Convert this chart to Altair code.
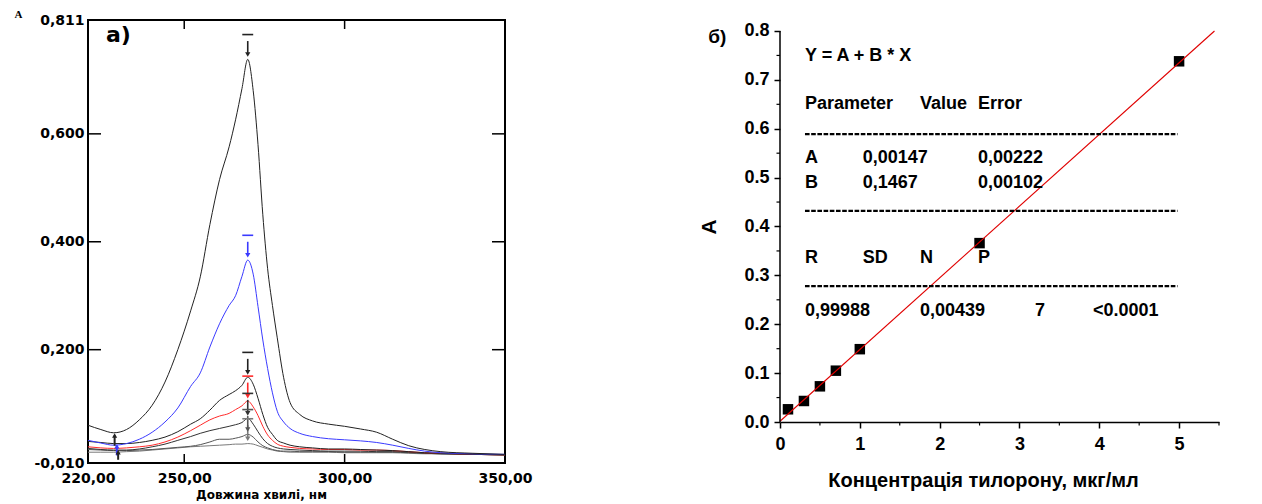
import altair as alt
import pandas as pd

# ---------------- data: panel a) UV spectra ----------------
WL = [220, 224, 228, 232, 236, 240, 244, 248, 252, 255, 258, 261, 264, 266, 268,
      269.8, 271.5, 273, 274.5, 276, 277.5, 279, 281, 283, 286, 290, 295, 300,
      305, 310, 315, 320, 325, 330, 340, 350]

A_50 = [0.060, 0.052, 0.046, 0.052, 0.070, 0.097, 0.140, 0.200, 0.272, 0.335, 0.432,
        0.515, 0.576, 0.626, 0.684, 0.738, 0.680, 0.580, 0.450, 0.350, 0.282, 0.222,
        0.148, 0.102, 0.080, 0.068, 0.062, 0.058, 0.053, 0.047, 0.034, 0.022, 0.015,
        0.011, 0.008, 0.006]
A_25 = [0.032, 0.027, 0.023, 0.026, 0.034, 0.047, 0.066, 0.092, 0.132, 0.157, 0.205,
        0.248, 0.282, 0.300, 0.336, 0.366, 0.340, 0.280, 0.218, 0.165, 0.120, 0.086,
        0.066, 0.054, 0.045, 0.039, 0.035, 0.033, 0.031, 0.028, 0.023, 0.017, 0.012,
        0.009, 0.007, 0.006]
A_10 = [0.030, 0.028, 0.026, 0.026, 0.028, 0.032, 0.038, 0.048, 0.062, 0.072, 0.088,
        0.106, 0.117, 0.124, 0.134, 0.149, 0.136, 0.110, 0.080, 0.056, 0.043, 0.032,
        0.027, 0.023, 0.020, 0.018, 0.016, 0.016, 0.015, 0.014, 0.013, 0.011, 0.009,
        0.008, 0.006, 0.005]
A_07 = [0.020, 0.018, 0.017, 0.018, 0.020, 0.023, 0.029, 0.038, 0.050, 0.060, 0.070,
        0.077, 0.082, 0.089, 0.096, 0.105, 0.094, 0.078, 0.058, 0.042, 0.032, 0.025,
        0.021, 0.019, 0.017, 0.016, 0.015, 0.015, 0.014, 0.014, 0.013, 0.011, 0.009,
        0.008, 0.006, 0.005]
A_05 = [0.017, 0.015, 0.014, 0.014, 0.016, 0.020, 0.025, 0.032, 0.039, 0.045, 0.050,
        0.054, 0.058, 0.061, 0.065, 0.073, 0.062, 0.048, 0.035, 0.026, 0.021, 0.018,
        0.016, 0.015, 0.014, 0.013, 0.012, 0.012, 0.012, 0.011, 0.011, 0.010, 0.008,
        0.007, 0.006, 0.005]
A_03 = [0.015, 0.014, 0.013, 0.013, 0.014, 0.015, 0.017, 0.019, 0.021, 0.024, 0.029,
        0.034, 0.034, 0.036, 0.039, 0.043, 0.038, 0.029, 0.022, 0.018, 0.015, 0.013,
        0.012, 0.012, 0.011, 0.011, 0.011, 0.010, 0.010, 0.010, 0.010, 0.009, 0.008,
        0.007, 0.006, 0.005]
A_01 = [0.010, 0.010, 0.010, 0.011, 0.012, 0.014, 0.016, 0.018, 0.020, 0.021, 0.022,
        0.023, 0.024, 0.025, 0.025, 0.026, 0.025, 0.022, 0.019, 0.016, 0.014, 0.012,
        0.011, 0.010, 0.010, 0.010, 0.010, 0.009, 0.009, 0.009, 0.009, 0.008, 0.007,
        0.007, 0.006, 0.005]

SERIES = ["0.1", "0.3", "0.5", "0.7", "1.0", "2.5", "5.0"]
SPECTRA = [A_01, A_03, A_05, A_07, A_10, A_25, A_50]
SERIES_COLORS = ["#7a7a7a", "#555555", "#333333", "#ff2a2a", "#222222", "#3a3aff", "#222222"]
PEAK_WL = 269.8

# minimum markers near 228 nm (series, wavelength, from, to)
MIN_SERIES = ["5.0", "2.5", "1.0"]
MIN_WL = [228.3, 229.0, 229.4]
MIN_FROM = [0.022, 0.004, -0.004]
MIN_TO = [0.041, 0.021, 0.010]

# ---------------- data: panel б) calibration ----------------
CONC = [0.1, 0.3, 0.5, 0.7, 1.0, 2.5, 5.0]
ABS = [0.026, 0.043, 0.073, 0.105, 0.149, 0.366, 0.738]
FIT_A = 0.00147
FIT_B = 0.1467

ANN_TEXT = ["Y = A + B * X",
            "Parameter", "Value", "Error",
            "A", "0,00147", "0,00222",
            "B", "0,1467", "0,00102",
            "R", "SD", "N", "P",
            "0,99988", "0,00439", "7", "<0.0001"]
ANN_X = [0.313,
         0.313, 1.754, 2.481,
         0.313, 1.036, 2.481,
         0.313, 1.036, 2.481,
         0.313, 1.036, 1.754, 2.481,
         0.313, 1.754, 3.195, 3.922]
ANN_Y = [0.748,
         0.650, 0.650, 0.650,
         0.540, 0.540, 0.540,
         0.488, 0.488, 0.488,
         0.335, 0.335, 0.335, 0.335,
         0.228, 0.228, 0.228, 0.228]
DASH_Y = [0.589, 0.432, 0.278]
DASH_X0, DASH_X1 = 0.313, 4.98

# ---------------- panel a) ----------------
LW, LH = 417, 443
BOLD_L = "DejaVu Sans"

rows = []
for s, vals in zip(SERIES, SPECTRA):
    for w, a in zip(WL, vals):
        rows.append({"series": s, "wl": w, "a": a})
spec_df = pd.DataFrame(rows)

color = alt.Color("series:N", scale=alt.Scale(domain=SERIES, range=SERIES_COLORS), legend=None)

comma_expr = "(datum.value < 0 ? '-' : '') + replace(format(abs(datum.value), '.3f'), '.', ',')"

x_l = alt.X("wl:Q", scale=alt.Scale(domain=[220, 350], nice=False, zero=False),
            axis=alt.Axis(values=[220, 250, 300, 350],
                          labelExpr="replace(format(datum.value, '.2f'), '.', ',')",
                          ticks=False, domain=False, grid=False, labelFlush=False,
                          labelFont=BOLD_L, labelFontWeight="bold", labelFontSize=14,
                          labelColor="black", labelPadding=8,
                          title="Довжина хвилі, нм", titleFont=BOLD_L, titleFontWeight="bold",
                          titleFontSize=12, titleColor="black", titleX=173, titleY=35,
                          titleAlign="center", titleBaseline="alphabetic"))
y_l = alt.Y("a:Q", scale=alt.Scale(domain=[-0.010, 0.811], nice=False, zero=False),
            axis=alt.Axis(values=[-0.010, 0.2, 0.4, 0.6, 0.811], labelExpr=comma_expr,
                          ticks=False, domain=False, grid=False, labelFlush=False,
                          labelFont=BOLD_L, labelFontWeight="bold", labelFontSize=14,
                          labelColor="black", labelPadding=4,
                          title="A", titleAngle=0, titleX=-74, titleY=-3, titleAlign="left",
                          titleBaseline="alphabetic", titleFont="Liberation Serif",
                          titleFontSize=11, titleFontWeight="bold", titleColor="black"))

curves = alt.Chart(spec_df).mark_line(strokeWidth=1, interpolate="monotone").encode(
    x=x_l, y=y_l, color=color, detail="series:N")

# inward ticks
ytick_df = pd.DataFrame({"a": [0.2, 0.4, 0.6]})
xtick_df = pd.DataFrame({"wl": [250, 300]})
tick_style = dict(color="black", strokeWidth=1.5)
yt_left = alt.Chart(ytick_df).mark_rule(**tick_style).encode(
    y="a:Q", x=alt.value(0), x2=alt.value(13))
yt_right = alt.Chart(ytick_df).mark_rule(**tick_style).encode(
    y="a:Q", x=alt.value(LW - 13), x2=alt.value(LW))
xt_bottom = alt.Chart(xtick_df).mark_rule(**tick_style).encode(
    x="wl:Q", y=alt.value(LH - 9), y2=alt.value(LH))
xt_top = alt.Chart(xtick_df).mark_rule(**tick_style).encode(
    x="wl:Q", y=alt.value(0), y2=alt.value(9))

# peak markers
peak_vals = [vals[WL.index(PEAK_WL)] for vals in SPECTRA]
mk_df = pd.DataFrame({
    "series": SERIES,
    "wl": [PEAK_WL] * len(SERIES),
    "y0": [p + 0.012 for p in peak_vals],
    "y1": [p + 0.034 for p in peak_vals],
    "head": [p + 0.009 for p in peak_vals],
    "dx0": [PEAK_WL - 1.7] * len(SERIES),
    "dx1": [PEAK_WL + 1.7] * len(SERIES),
    "dy": [p + 0.046 for p in peak_vals],
})
shafts = alt.Chart(mk_df).mark_rule(strokeWidth=1.6).encode(
    x="wl:Q", y="y0:Q", y2="y1:Q", color=color)
heads = alt.Chart(mk_df).mark_point(shape="triangle-down", filled=True, size=28, opacity=1).encode(
    x="wl:Q", y="head:Q", color=color)
dashes = alt.Chart(mk_df).mark_rule(strokeWidth=1.6).encode(
    x="dx0:Q", x2="dx1:Q", y="dy:Q", color=color)

min_df = pd.DataFrame({"series": MIN_SERIES, "wl": MIN_WL, "y0": MIN_FROM, "y1": MIN_TO})
min_shafts = alt.Chart(min_df).mark_rule(strokeWidth=2).encode(
    x="wl:Q", y="y0:Q", y2="y1:Q", color=color)
min_heads = alt.Chart(min_df).mark_point(shape="triangle-up", filled=True, size=26, opacity=1).encode(
    x="wl:Q", y="y1:Q", color=color)

label_a = alt.Chart(pd.DataFrame({"wl": [225.6], "a": [0.784], "t": ["a)"]})).mark_text(
    align="left", baseline="middle", font=BOLD_L, fontWeight="bold", fontSize=22, color="black"
).encode(x="wl:Q", y="a:Q", text="t:N")

left = alt.layer(curves, yt_left, yt_right, xt_bottom, xt_top, shafts, heads, dashes,
                 min_shafts, min_heads, label_a).properties(
    width=LW, height=LH, view=alt.ViewBackground(stroke="black", strokeWidth=2))

# ---------------- panel б) ----------------
RW, RH = 439, 402
Y_TOP = 0.8225
FONT_R = "Liberation Sans"

cal_df = pd.DataFrame({"c": CONC, "v": ABS})
x_end = (0.8 - FIT_A) / FIT_B
fit_df = pd.DataFrame({"c": [0.0, x_end], "v": [FIT_A, FIT_A + FIT_B * x_end]})

x_r = alt.X("c:Q", scale=alt.Scale(domain=[0, 5.5], nice=False, zero=False),
            axis=alt.Axis(values=[0, 1, 2, 3, 4, 5], format="d", grid=False, labelFlush=False,
                          tickSize=6, tickWidth=1.5, tickColor="black",
                          domainColor="black", domainWidth=1.5,
                          labelFont=FONT_R, labelFontSize=18, labelFontWeight="bold",
                          labelColor="black", labelPadding=7,
                          title="Концентрація тилорону, мкг/мл", titleFont=FONT_R,
                          titleFontSize=20, titleFontWeight="bold", titleColor="black",
                          titleX=203, titleY=64, titleAlign="center",
                          titleBaseline="alphabetic"))
y_r = alt.Y("v:Q", scale=alt.Scale(domain=[0, Y_TOP], nice=False, zero=False),
            axis=alt.Axis(values=[0.0, 0.1, 0.2, 0.3, 0.4, 0.5, 0.6, 0.7, 0.8], format=".1f",
                          grid=False, domain=False, labelFlush=False,
                          tickSize=6, tickWidth=1.5, tickColor="black",
                          labelFont=FONT_R, labelFontSize=18, labelFontWeight="bold",
                          labelColor="black", labelPadding=5,
                          title="A", titleFont=FONT_R, titleFontSize=21,
                          titleFontWeight="bold", titleColor="black",
                          titleX=-65, titleY=206.5, titleAlign="center",
                          titleBaseline="alphabetic"))

points = alt.Chart(cal_df).mark_square(size=110, color="black", opacity=1).encode(x=x_r, y=y_r)
fit = alt.Chart(fit_df).mark_line(color="#e00000", strokeWidth=1.1).encode(x="c:Q", y="v:Q")

yline = alt.Chart(pd.DataFrame({"v": [0.0], "v2": [0.8]})).mark_rule(
    color="black", strokeWidth=1.5).encode(x=alt.value(0), y="v:Q", y2="v2:Q")

minor_y = alt.Chart(pd.DataFrame({"v": [0.05 + 0.1 * i for i in range(8)]})).mark_rule(
    color="black", strokeWidth=1.2).encode(y="v:Q", x=alt.value(-3.5), x2=alt.value(0))
minor_x = alt.Chart(pd.DataFrame({"c": [0.5 + i for i in range(6)]})).mark_rule(
    color="black", strokeWidth=1.2).encode(x="c:Q", y=alt.value(RH), y2=alt.value(RH + 3.5))

ann_df = pd.DataFrame({"t": ANN_TEXT, "c": ANN_X, "v": ANN_Y})
ann = alt.Chart(ann_df).mark_text(align="left", baseline="middle", font=FONT_R,
                                  fontSize=18, fontWeight="bold", color="black").encode(
    x="c:Q", y="v:Q", text="t:N")

dash_df = pd.DataFrame({"v": DASH_Y, "c": [DASH_X0] * 3, "c2": [DASH_X1] * 3})
dash_lines = alt.Chart(dash_df).mark_rule(color="black", strokeWidth=2.4,
                                          strokeDash=[4.6, 1.6]).encode(
    x="c:Q", x2="c2:Q", y="v:Q")

label_b = alt.Chart(pd.DataFrame({"c": [-0.90], "v": [0.788], "t": ["б)"]})).mark_text(
    align="left", baseline="middle", font=FONT_R, fontSize=19, fontWeight="bold", color="black"
).encode(x="c:Q", y="v:Q", text="t:N")

right = alt.layer(points, fit, yline, minor_y, minor_x, dash_lines, ann, label_b).properties(
    width=RW, height=RH)

chart = alt.hconcat(left, right, spacing=164).properties(
    padding={"left": 5, "top": -1, "right": 5, "bottom": 0},
    background="white",
).configure_view(stroke=None)

chart.save("out.html", embed_options={"renderer": "svg", "actions": False})
